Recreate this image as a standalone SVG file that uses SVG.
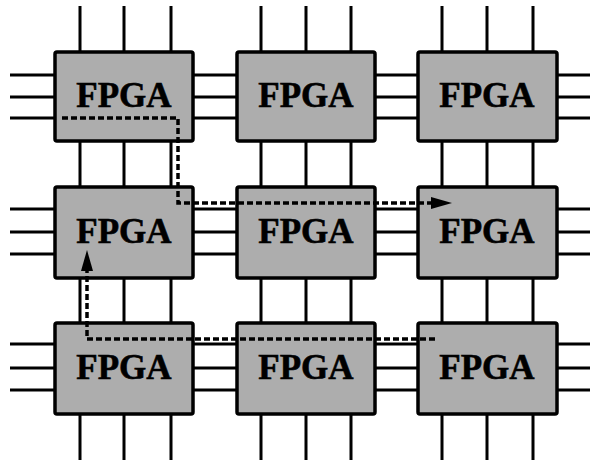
<svg xmlns="http://www.w3.org/2000/svg" width="594" height="463" viewBox="0 0 594 463">
<style>
.w{stroke:#000;stroke-width:3;fill:none}
.b{fill:#adadad;stroke:#000;stroke-width:3.5}
.t{font-family:"Liberation Serif","Times New Roman",serif;font-weight:bold;font-size:35px;fill:#000;stroke:#000;stroke-width:0.6;text-anchor:middle}
.d{stroke:#000;stroke-width:3.5;fill:none;stroke-dasharray:6 3}
</style>
<g id="wires">
<path class="w" d="M80,6V460M124,6V460M171,6V460M261,6V460M306,6V460M351,6V460M442,6V460M487,6V460M533,6V460"/>
<path class="w" d="M10,75H590M10,97H590M10,118H590M10,209H590M10,232H590M10,254H590M10,344H590M10,368H590M10,390H590"/>
</g>
<g id="fpga11"><rect class="b" x="55" y="52" width="138" height="89" rx="2"/><text class="t" x="124" y="107">FPGA</text></g>
<g id="fpga12"><rect class="b" x="237" y="52" width="138" height="89" rx="2"/><text class="t" x="306" y="107">FPGA</text></g>
<g id="fpga13"><rect class="b" x="418" y="52" width="139" height="89" rx="2"/><text class="t" x="487" y="107">FPGA</text></g>
<g id="fpga21"><rect class="b" x="55" y="187" width="138" height="91" rx="2"/><text class="t" x="124" y="243">FPGA</text></g>
<g id="fpga22"><rect class="b" x="237" y="187" width="138" height="91" rx="2"/><text class="t" x="306" y="243">FPGA</text></g>
<g id="fpga23"><rect class="b" x="418" y="187" width="139" height="91" rx="2"/><text class="t" x="487" y="243">FPGA</text></g>
<g id="fpga31"><rect class="b" x="55" y="323" width="138" height="91" rx="2"/><text class="t" x="124" y="379">FPGA</text></g>
<g id="fpga32"><rect class="b" x="237" y="323" width="138" height="91" rx="2"/><text class="t" x="306" y="379">FPGA</text></g>
<g id="fpga33"><rect class="b" x="418" y="323" width="139" height="91" rx="2"/><text class="t" x="487" y="379">FPGA</text></g>
<g id="connectors">
<path class="d" d="M62,118H178V203H434"/>
<path d="M452,203L431,197V209z" fill="#000"/>
<path class="d" d="M435,339H87V270"/>
<path d="M87,250L81,271H93z" fill="#000"/>
</g>
</svg>
